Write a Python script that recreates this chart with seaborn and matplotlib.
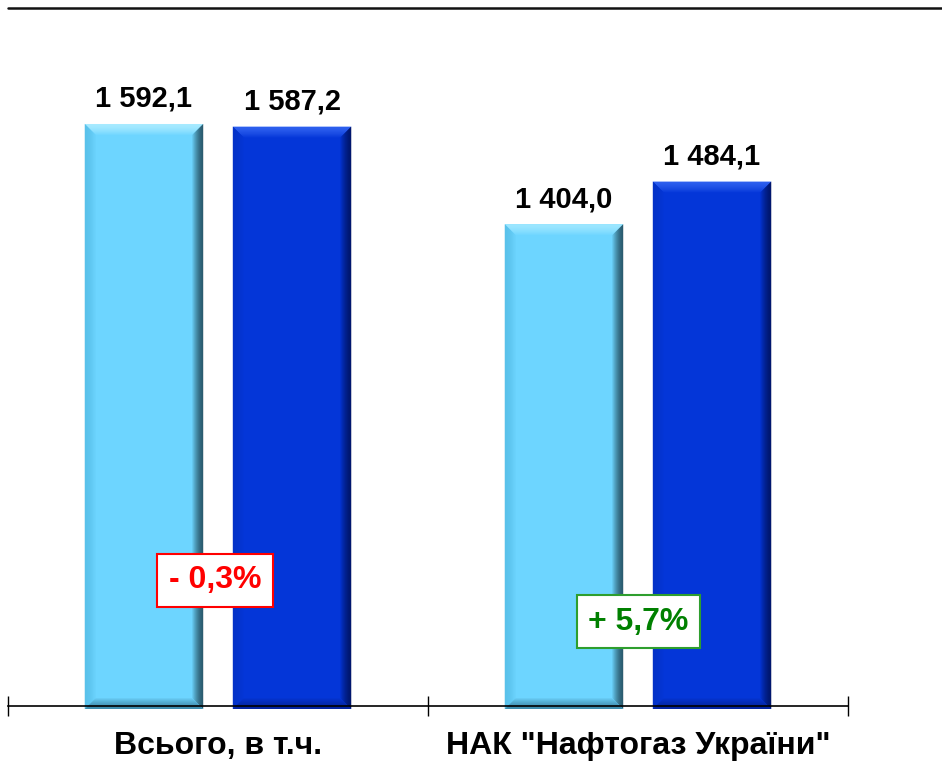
import matplotlib
matplotlib.use('Agg')
import matplotlib.pyplot as plt
import seaborn as sns
import pandas as pd
import numpy as np
from matplotlib.patches import Polygon
from matplotlib.lines import Line2D
from matplotlib.colors import to_rgb

# data
categories = ['Всього, в т.ч.', 'НАК "Нафтогаз України"']
series = ['попередній період', 'поточний період']
values_prev = [1592.1, 1404.0]
values_curr = [1587.2, 1484.1]
changes = ['- 0,3%', '+ 5,7%']

df = pd.DataFrame({
    'category': categories * 2,
    'series': [series[0]] * 2 + [series[1]] * 2,
    'value': values_prev + values_curr,
})

# colours: base, then top / left / right / bottom bevel edges
bar_colors = ['#6DD5FF', '#0436D8']
bevel_colors = [
    ['#A8EBFF', '#55BDE6', '#1F4655', '#3F8DAE'],
    ['#3A6CF5', '#0332C6', '#000F55', '#0324A0'],
]
change_text = ['#FF0000', '#008000']
change_edge = ['#FF0000', '#2E9E2E']

sns.set_style('white')
plt.rcParams['font.family'] = ['Liberation Sans', 'DejaVu Sans']
plt.rcParams['text.color'] = 'black'
plt.rcParams['xtick.color'] = 'black'

fig = plt.figure(figsize=(9.42, 7.62), dpi=100)
ax = fig.add_axes([8 / 942, (762 - 709) / 762, 840 / 942, (709 - 13.2) / 762])

sns.barplot(data=df, x='category', y='value', hue='series', palette=bar_colors,
            saturation=1, width=0.705, gap=0.2, linewidth=0, legend=False, ax=ax, zorder=2)

ymin, ymax = 494.4, 1800
ax.set_ylim(ymin, ymax)
ax.set_xlim(-0.5, 1.5)

# bevel effect drawn over each bar
bevel_px = 12
steps = 12
xr = 2 / 840
yr = (ymax - ymin) / (709 - 13.2)


def mix(c1, c2, t):
    a, b = np.array(to_rgb(c1)), np.array(to_rgb(c2))
    return tuple(a + (b - a) * t)


for ci, cont in enumerate(ax.containers):
    base = bar_colors[ci]
    top_c, left_c, right_c, bot_c = bevel_colors[ci]
    for p in cont.patches:
        x0, w, h = p.get_x(), p.get_width(), p.get_height()
        x1 = x0 + w
        y0, y1 = ymin, h
        for k in range(steps):
            a = k / steps * bevel_px
            b = (k + 1) / steps * bevel_px
            t = (k / (steps - 1)) ** 1.5
            oa = (x0 + a * xr, y0 + a * yr, x1 - a * xr, y1 - a * yr)
            ob = (x0 + b * xr, y0 + b * yr, x1 - b * xr, y1 - b * yr)
            sides = [
                ([(oa[0], oa[3]), (oa[2], oa[3]), (ob[2], ob[3]), (ob[0], ob[3])], top_c),
                ([(oa[0], oa[1]), (oa[0], oa[3]), (ob[0], ob[3]), (ob[0], ob[1])], left_c),
                ([(oa[2], oa[1]), (oa[2], oa[3]), (ob[2], ob[3]), (ob[2], ob[1])], right_c),
                ([(oa[0], oa[1]), (oa[2], oa[1]), (ob[2], ob[1]), (ob[0], ob[1])], bot_c),
            ]
            for pts, col in sides:
                ax.add_patch(Polygon(pts, closed=True, facecolor=mix(col, base, t),
                                     edgecolor='none', zorder=2.2))

# value labels
for cont in ax.containers:
    labels = [f'{v:,.1f}'.replace(',', ' ').replace('.', ',') for v in cont.datavalues]
    ax.bar_label(cont, labels=labels, padding=8, fontsize=21, fontweight='bold',
                 color='black')

# change boxes
change_x = [-0.007, 0.001]
change_y = [736, 658]
for i, txt in enumerate(changes):
    ax.text(i + change_x[i], change_y[i], txt, ha='center', va='center', fontsize=23,
            fontweight='bold', color=change_text[i], zorder=6,
            bbox=dict(boxstyle='square,pad=0.36', facecolor='white',
                      edgecolor=change_edge[i], linewidth=1.5))

# axis
for s in ['top', 'left', 'right']:
    ax.spines[s].set_visible(False)
ax.spines['bottom'].set_position(('data', 500))
ax.spines['bottom'].set_color('black')
ax.spines['bottom'].set_linewidth(1.2)
ax.spines['bottom'].set_zorder(3)
ax.set_yticks([])
ax.set_xticks([-0.5, 0.5, 1.5], ['', '', ''])
ax.set_xticks([0, 1], categories, minor=True)
ax.tick_params(axis='x', which='major', bottom=True, direction='inout', length=13.7,
               width=1, color='black')
ax.tick_params(axis='x', which='minor', bottom=True, length=0, pad=18, labelsize=23,
               labelcolor='black')
for lbl in ax.get_xticklabels(minor=True):
    lbl.set_fontweight('bold')
ax.set_xlabel('')
ax.set_ylabel('')

# decorative line at the top
fig.add_artist(Line2D([8 / 942, 1], [1 - 7.5 / 762] * 2, color='#111111', linewidth=1.8))

fig.savefig('out.png', dpi=100)
